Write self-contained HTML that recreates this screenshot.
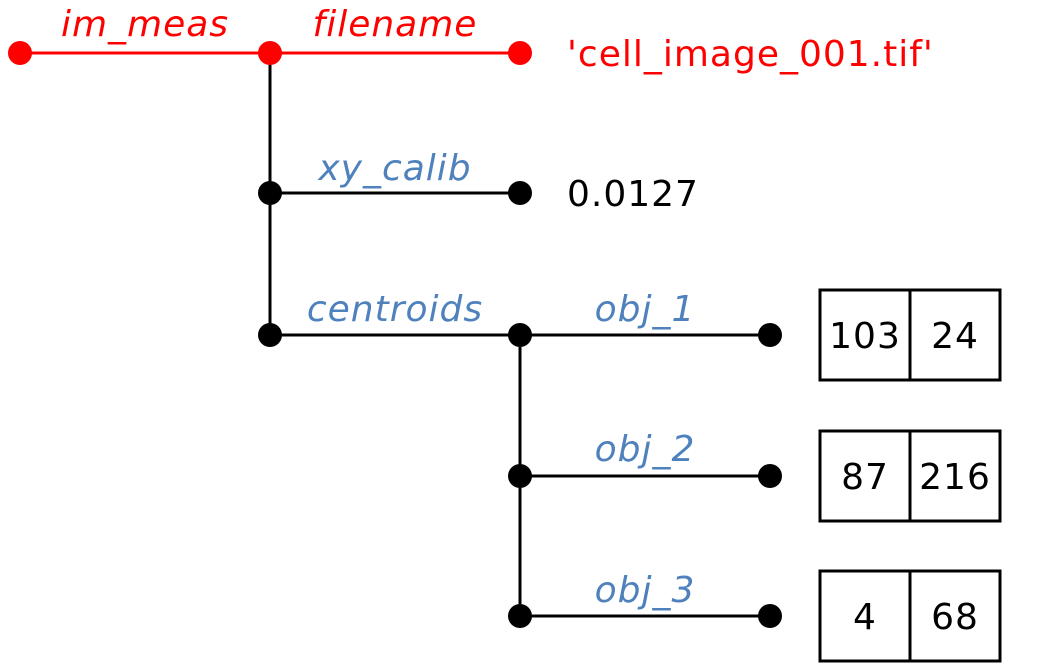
<!DOCTYPE html>
<html><head><meta charset="utf-8"><style>
html,body{margin:0;padding:0;background:#fff;}
svg{display:block;}
text{font-family:"DejaVu Sans","Liberation Sans",sans-serif;font-size:36px;letter-spacing:1px;}
.l{font-style:italic;fill:#4f81bd;text-anchor:middle;}
.r{font-style:italic;fill:#ff0000;text-anchor:middle;}
.n{fill:#000;text-anchor:middle;}
</style></head><body>
<svg width="1055" height="671" viewBox="0 0 1055 671">
<g stroke="#000" stroke-width="3" fill="none">
<line x1="270" y1="53" x2="270" y2="335"/>
<line x1="270" y1="193" x2="520" y2="193"/>
<line x1="270" y1="335" x2="770" y2="335"/>
<line x1="520" y1="335" x2="520" y2="616"/>
<line x1="520" y1="476" x2="770" y2="476"/>
<line x1="520" y1="616" x2="770" y2="616"/>
<rect x="820" y="290" width="180" height="90"/><line x1="910" y1="290" x2="910" y2="380"/>
<rect x="820" y="431" width="180" height="90"/><line x1="910" y1="431" x2="910" y2="521"/>
<rect x="820" y="571" width="180" height="90"/><line x1="910" y1="571" x2="910" y2="661"/>
</g>
<line x1="20" y1="53" x2="520" y2="53" stroke="#ff0000" stroke-width="3"/>
<g fill="#ff0000"><circle cx="20" cy="53" r="12"/><circle cx="270" cy="53" r="12"/><circle cx="520" cy="53" r="12"/></g>
<g fill="#000">
<circle cx="270" cy="193" r="12"/><circle cx="520" cy="193" r="12"/>
<circle cx="270" cy="335" r="12"/><circle cx="520" cy="335" r="12"/><circle cx="770" cy="335" r="12"/>
<circle cx="520" cy="476" r="12"/><circle cx="770" cy="476" r="12"/>
<circle cx="520" cy="616" r="12"/><circle cx="770" cy="616" r="12"/>
</g>
<text class="r" x="145" y="36">im_meas</text>
<text class="r" x="395" y="36">filename</text>
<text x="567" y="66" fill="#ff0000">'cell_image_001.tif'</text>
<text class="l" x="395" y="180">xy_calib</text>
<text x="567" y="206" fill="#000">0.0127</text>
<text class="l" x="395" y="321">centroids</text>
<text class="l" x="645" y="321">obj_1</text>
<text class="l" x="645" y="461">obj_2</text>
<text class="l" x="645" y="602">obj_3</text>
<text class="n" x="865" y="348">103</text><text class="n" x="955" y="348">24</text>
<text class="n" x="865" y="489">87</text><text class="n" x="955" y="489">216</text>
<text class="n" x="865" y="629">4</text><text class="n" x="955" y="629">68</text>
</svg>
</body></html>
